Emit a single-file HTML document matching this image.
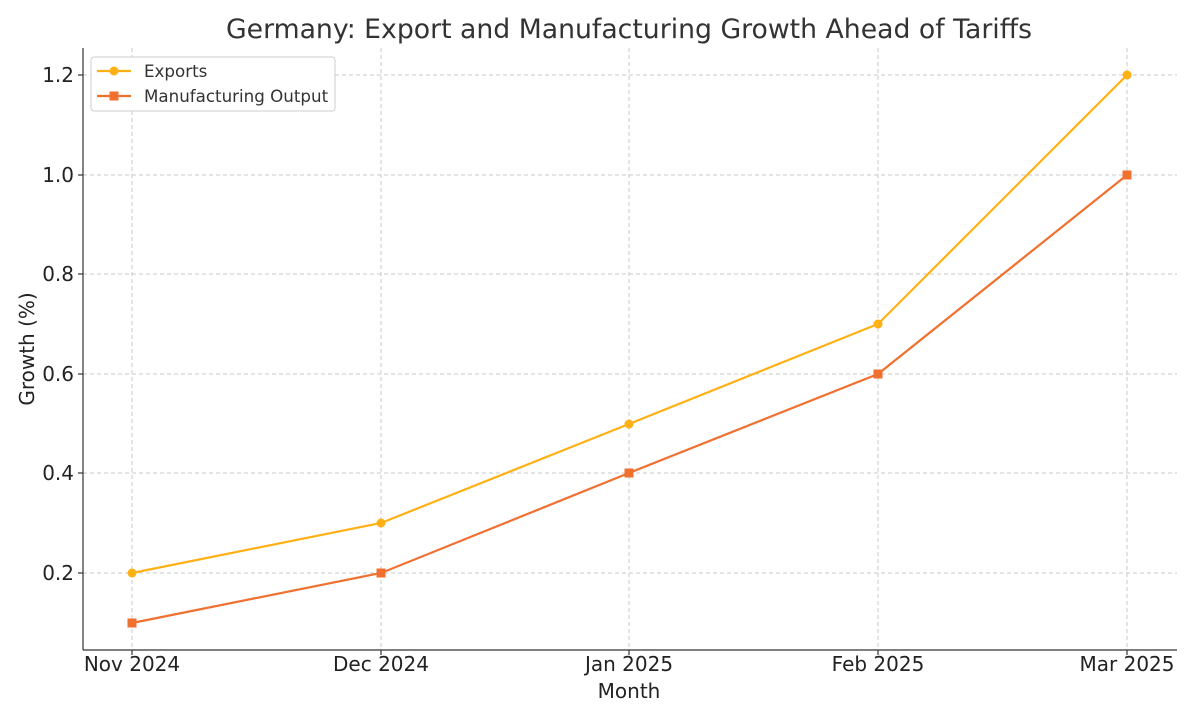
<!DOCTYPE html>
<html><head><meta charset="utf-8"><style>body{margin:0;background:#fff}</style></head><body>
<svg width="1200" height="720" xmlns="http://www.w3.org/2000/svg" font-family="DejaVu Sans, Liberation Sans, sans-serif">
<rect width="1200" height="720" fill="#fff"/>
<text x="629" y="38" text-anchor="middle" font-size="26.7" fill="#333">Germany: Export and Manufacturing Growth Ahead of Tariffs</text>
<g stroke="#c8c8c8" stroke-width="1" stroke-dasharray="4,3">
<line x1="132" y1="48" x2="132" y2="650"/><line x1="381" y1="48" x2="381" y2="650"/><line x1="629" y1="48" x2="629" y2="650"/><line x1="878" y1="48" x2="878" y2="650"/><line x1="1127" y1="48" x2="1127" y2="650"/>
<line x1="83" y1="75" x2="1177" y2="75"/><line x1="83" y1="175" x2="1177" y2="175"/><line x1="83" y1="274" x2="1177" y2="274"/><line x1="83" y1="374" x2="1177" y2="374"/><line x1="83" y1="473" x2="1177" y2="473"/><line x1="83" y1="573" x2="1177" y2="573"/>
</g>
<g stroke="#333" stroke-width="1.2"><line x1="83" y1="48" x2="83" y2="650"/><line x1="83" y1="650" x2="1177" y2="650"/>
<line x1="78" y1="75" x2="83" y2="75"/><line x1="78" y1="175" x2="83" y2="175"/><line x1="78" y1="274" x2="83" y2="274"/><line x1="78" y1="374" x2="83" y2="374"/><line x1="78" y1="473" x2="83" y2="473"/><line x1="78" y1="573" x2="83" y2="573"/>
<line x1="132" y1="650" x2="132" y2="655"/><line x1="381" y1="650" x2="381" y2="655"/><line x1="629" y1="650" x2="629" y2="655"/><line x1="878" y1="650" x2="878" y2="655"/><line x1="1127" y1="650" x2="1127" y2="655"/></g>
<g font-size="20" fill="#222" text-anchor="end">
<text x="74" y="82">1.2</text><text x="74" y="182">1.0</text><text x="74" y="281">0.8</text><text x="74" y="381">0.6</text><text x="74" y="480">0.4</text><text x="74" y="580">0.2</text></g>
<g font-size="20" fill="#222" text-anchor="middle">
<text x="132" y="671">Nov 2024</text><text x="381" y="671">Dec 2024</text><text x="629" y="671">Jan 2025</text><text x="878" y="671">Feb 2025</text><text x="1127" y="671">Mar 2025</text>
<text x="629" y="698">Month</text></g>
<text transform="translate(34,349) rotate(-90)" font-size="20" fill="#222" text-anchor="middle">Growth (%)</text>
<polyline points="132,573 381,523 629,424 878,324 1127,75" fill="none" stroke="#FFB014" stroke-width="2.2"/>
<polyline points="132,623 381,573 629,473 878,374 1127,175" fill="none" stroke="#F07030" stroke-width="2.2"/>
<g fill="#FFB014"><circle cx="132" cy="573" r="4.5"/><circle cx="381" cy="523" r="4.5"/><circle cx="629" cy="424" r="4.5"/><circle cx="878" cy="324" r="4.5"/><circle cx="1127" cy="75" r="4.5"/></g>
<g fill="#F07030"><rect x="127.5" y="618.5" width="9" height="9"/><rect x="376.5" y="568.5" width="9" height="9"/><rect x="624.5" y="468.5" width="9" height="9"/><rect x="873.5" y="369.5" width="9" height="9"/><rect x="1122.5" y="170.5" width="9" height="9"/></g>
<rect x="91" y="57" width="244" height="54" rx="3" fill="#fff" stroke="#ccc"/>
<line x1="97" y1="71" x2="131" y2="71" stroke="#FFB014" stroke-width="2.2"/><circle cx="114" cy="71" r="4.5" fill="#FFB014"/>
<line x1="97" y1="96" x2="131" y2="96" stroke="#F07030" stroke-width="2.2"/><rect x="109.5" y="91.5" width="9" height="9" fill="#F07030"/>
<text x="144" y="77" font-size="16.7" fill="#333">Exports</text>
<text x="144" y="102" font-size="16.7" fill="#333">Manufacturing Output</text>
</svg>
</body></html>
